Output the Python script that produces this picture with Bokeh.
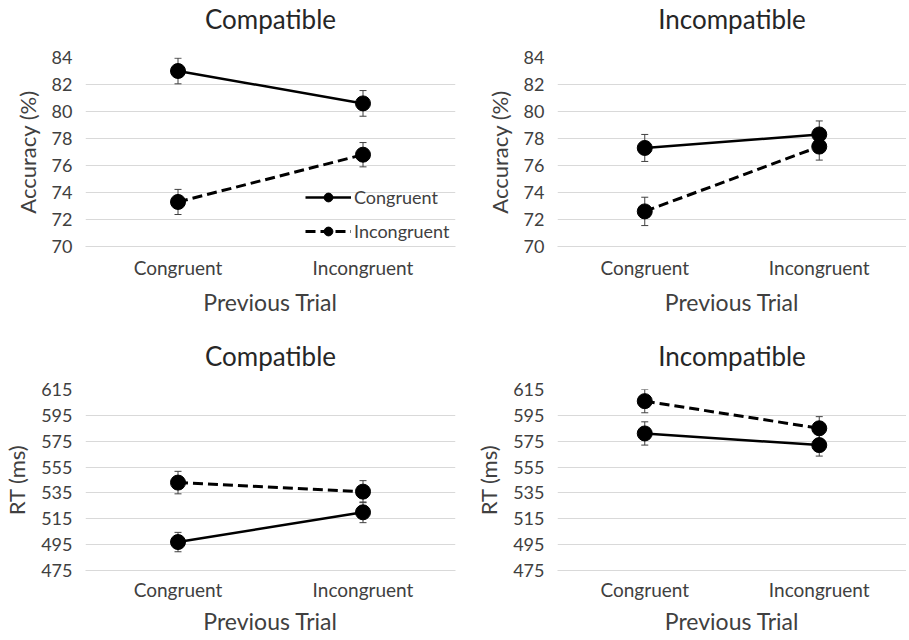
from bokeh.plotting import figure
from bokeh.models import Range1d, FactorRange, Whisker, ColumnDataSource, TeeHead, FixedTicker, Title
from bokeh.layouts import column, row
from bokeh.embed import file_html
from bokeh.resources import INLINE

categories = ["Congruent", "Incongruent"]
series_names = ["Congruent", "Incongruent"]

acc_ticks = [70, 72, 74, 76, 78, 80, 82, 84]
rt_ticks = [475, 495, 515, 535, 555, 575, 595, 615]

acc_comp_congruent = [83.0, 80.6]
acc_comp_congruent_err = [0.95, 0.95]
acc_comp_incongruent = [73.3, 76.8]
acc_comp_incongruent_err = [0.93, 0.9]

acc_incomp_congruent = [77.3, 78.3]
acc_incomp_congruent_err = [1.0, 1.0]
acc_incomp_incongruent = [72.6, 77.4]
acc_incomp_incongruent_err = [1.05, 1.0]

rt_comp_congruent = [497, 520]
rt_comp_congruent_err = [7.5, 8]
rt_comp_incongruent = [543, 536]
rt_comp_incongruent_err = [8.7, 8.5]

rt_incomp_congruent = [581, 572]
rt_incomp_congruent_err = [9, 8.5]
rt_incomp_incongruent = [606, 585]
rt_incomp_incongruent_err = [9, 9]

FONT = "Lato"
TXT = "#404040"


def panel(title, ylabel, yticks, s_con, e_con, s_inc, e_inc, width, height,
          bl, br, bt, bb, valign, tstand, spacer, ylstand, xtstand, xlstand,
          legend=False):
    p = figure(x_range=FactorRange(*categories),
               y_range=Range1d(yticks[0], yticks[-1]),
               width=width, height=height, output_backend="svg",
               toolbar_location=None,
               min_border_left=bl, min_border_right=br,
               min_border_top=bt, min_border_bottom=bb)
    if spacer is not None:
        p.add_layout(Title(text=" ", text_font_size="8px", standoff=spacer,
                           vertical_align="top"), "above")
    p.title.text = title
    p.title.align = "center"
    p.title.vertical_align = valign
    p.title.text_font = FONT
    p.title.text_font_size = "26px"
    p.title.text_font_style = "normal"
    p.title.text_color = "#262626"
    p.title.standoff = tstand
    p.outline_line_color = None
    p.xgrid.visible = False
    p.yaxis.ticker = FixedTicker(ticks=yticks)
    p.ygrid.grid_line_color = "#d9d9d9"
    p.ygrid.grid_line_width = 1

    ya = p.yaxis[0]
    ya.axis_label = ylabel
    ya.axis_line_color = None
    ya.major_tick_line_color = None
    ya.minor_tick_line_color = None
    ya.major_label_text_font = FONT
    ya.major_label_text_font_size = "18px"
    ya.major_label_text_color = TXT
    ya.major_label_standoff = 7
    ya.axis_label_text_font = FONT
    ya.axis_label_text_font_size = "22px"
    ya.axis_label_text_font_style = "normal"
    ya.axis_label_text_color = TXT
    ya.axis_label_standoff = ylstand

    xa = p.xaxis[0]
    xa.axis_label = "Previous Trial"
    xa.axis_line_color = "#d9d9d9"
    xa.major_tick_line_color = None
    xa.minor_tick_line_color = None
    xa.major_label_text_font = FONT
    xa.major_label_text_font_size = "19px"
    xa.major_label_text_color = TXT
    xa.major_label_standoff = xtstand
    xa.axis_label_text_font = FONT
    xa.axis_label_text_font_size = "23px"
    xa.axis_label_text_font_style = "normal"
    xa.axis_label_text_color = TXT
    xa.axis_label_standoff = xlstand

    for vals, errs, dash, lw, name in [(s_con, e_con, "solid", 2.5, series_names[0]),
                                       (s_inc, e_inc, "10 5", 3, series_names[1])]:
        src = ColumnDataSource(dict(
            x=categories, y=vals,
            upper=[v + e for v, e in zip(vals, errs)],
            lower=[v - e for v, e in zip(vals, errs)]))
        w = Whisker(base="x", upper="upper", lower="lower", source=src,
                    dimension="height", line_color="#404040", line_width=1,
                    upper_head=TeeHead(size=7, line_color="#404040", line_width=1),
                    lower_head=TeeHead(size=7, line_color="#404040", line_width=1))
        p.add_layout(w)
        if legend:
            p.line("x", "y", source=src, line_color="black", line_width=lw,
                   line_dash=dash, legend_label=name)
            p.scatter("x", "y", source=src, size=15, color="black", legend_label=name)
        else:
            p.line("x", "y", source=src, line_color="black", line_width=lw,
                   line_dash=dash)
            p.scatter("x", "y", source=src, size=15, color="black")

    if legend:
        lg = p.legend[0]
        lg.location = (220, 4)
        lg.padding = 0
        lg.margin = 0
        lg.spacing = 12
        lg.glyph_width = 46
        lg.glyph_height = 22
        lg.label_height = 22
        lg.label_standoff = 3
        lg.label_text_font = FONT
        lg.label_text_font_size = "18px"
        lg.label_text_color = TXT
        lg.background_fill_alpha = 0
        lg.border_line_color = None
    return p


p1 = panel("Compatible", "Accuracy (%)", acc_ticks,
           acc_comp_congruent, acc_comp_congruent_err,
           acc_comp_incongruent, acc_comp_incongruent_err,
           460, 318, 85, 5, 57, 72, "top", 2, 9, 8, 3, 6, legend=True)
p2 = panel("Incompatible", "Accuracy (%)", acc_ticks,
           acc_incomp_congruent, acc_incomp_congruent_err,
           acc_incomp_incongruent, acc_incomp_incongruent_err,
           446, 318, 97, 0, 57, 72, "top", 2, 9, 8, 3, 6)
p3 = panel("Compatible", "RT (ms)", rt_ticks,
           rt_comp_congruent, rt_comp_congruent_err,
           rt_comp_incongruent, rt_comp_incongruent_err,
           460, 320, 85, 5, 71, 68, "bottom", 36, None, 8, 1, 3)
p4 = panel("Incompatible", "RT (ms)", rt_ticks,
           rt_incomp_congruent, rt_incomp_congruent_err,
           rt_incomp_incongruent, rt_incomp_incongruent_err,
           446, 320, 97, 0, 71, 68, "bottom", 36, None, 8, 1, 3)

layout = column(row(p1, p2), row(p3, p4))
open("out.html", "w").write(file_html(layout, INLINE))
